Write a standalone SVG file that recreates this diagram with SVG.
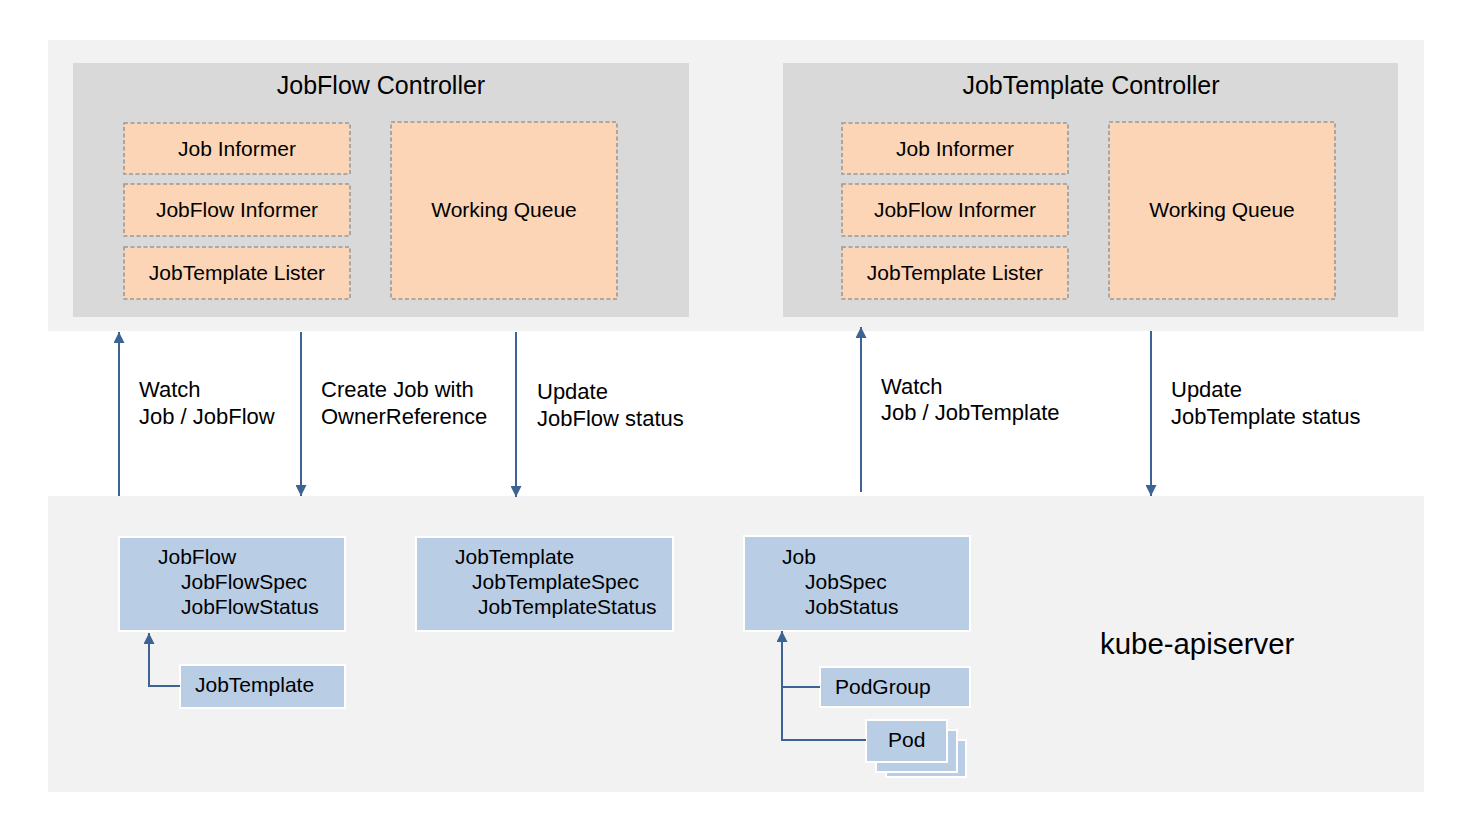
<svg xmlns="http://www.w3.org/2000/svg" width="1483" height="836" viewBox="0 0 1483 836">
<defs>
<marker id="ah" viewBox="0 0 10 10" refX="10" refY="5" markerWidth="12" markerHeight="11" markerUnits="userSpaceOnUse" orient="auto">
<path d="M0,0 L10,5 L0,10 Z" fill="#3c6393"/>
</marker>
<style>
.band{fill:#f2f2f2}
.ctrl{fill:#d9d9d9}
.peach{fill:#fbd5b5;stroke:#999999;stroke-width:1.6;stroke-dasharray:4 2.5}
.blue{fill:#b9cde5;stroke:#ffffff;stroke-width:2}
.t{font-family:"Liberation Sans",Arial,sans-serif;fill:#000}
.c20{font-size:21px;text-anchor:middle}
.l20{font-size:21px}
.lab{font-size:22px}
.h24{font-size:25px;text-anchor:middle}
.conn{stroke:#3c6393;stroke-width:2;fill:none}
</style>
</defs>
<rect width="1483" height="836" fill="#ffffff"/>
<rect id="top-band" class="band" x="48" y="40" width="1376" height="291"/>
<g id="apiserver">
<rect class="band" x="48" y="496" width="1376" height="296"/>
<text class="t" x="1100" y="654" font-size="29.4">kube-apiserver</text>
</g>
<g id="jobflow-controller">
<rect class="ctrl" x="73" y="63" width="616" height="254"/>
<text class="t h24" x="381" y="94">JobFlow Controller</text>
</g>
<g id="jf-job-informer"><rect class="peach" x="124" y="123" width="226" height="51"/><text class="t c20" x="237" y="156">Job Informer</text></g>
<g id="jf-jobflow-informer"><rect class="peach" x="124" y="184" width="226" height="52"/><text class="t c20" x="237" y="217">JobFlow Informer</text></g>
<g id="jf-jobtemplate-lister"><rect class="peach" x="124" y="247" width="226" height="52"/><text class="t c20" x="237" y="280">JobTemplate Lister</text></g>
<g id="jf-working-queue"><rect class="peach" x="391" y="122" width="226" height="177"/><text class="t c20" x="504" y="217">Working Queue</text></g>
<g id="jobtemplate-controller">
<rect class="ctrl" x="783" y="63" width="615" height="254"/>
<text class="t h24" x="1091" y="94">JobTemplate Controller</text>
</g>
<g id="jt-job-informer"><rect class="peach" x="842" y="123" width="226" height="51"/><text class="t c20" x="955" y="156">Job Informer</text></g>
<g id="jt-jobflow-informer"><rect class="peach" x="842" y="184" width="226" height="52"/><text class="t c20" x="955" y="217">JobFlow Informer</text></g>
<g id="jt-jobtemplate-lister"><rect class="peach" x="842" y="247" width="226" height="52"/><text class="t c20" x="955" y="280">JobTemplate Lister</text></g>
<g id="jt-working-queue"><rect class="peach" x="1109" y="122" width="226" height="177"/><text class="t c20" x="1222" y="217">Working Queue</text></g>
<g id="res-jobflow"><rect class="blue" x="119" y="537" width="226" height="94"/>
<text class="t l20" x="158" y="564">JobFlow</text><text class="t l20" x="181" y="589">JobFlowSpec</text><text class="t l20" x="181" y="614">JobFlowStatus</text></g>
<g id="res-jobtemplate"><rect class="blue" x="416" y="537" width="257" height="94"/>
<text class="t l20" x="455" y="564">JobTemplate</text><text class="t l20" x="472" y="589">JobTemplateSpec</text><text class="t l20" x="478" y="614">JobTemplateStatus</text></g>
<g id="res-job"><rect class="blue" x="744" y="536" width="226" height="95"/>
<text class="t l20" x="782" y="564">Job</text><text class="t l20" x="805" y="589">JobSpec</text><text class="t l20" x="805" y="614">JobStatus</text></g>
<g id="res-jobtemplate-small"><rect class="blue" x="180" y="665" width="165" height="43"/><text class="t l20" x="195" y="692">JobTemplate</text></g>
<g id="res-podgroup"><rect class="blue" x="820" y="667" width="150" height="40"/><text class="t l20" x="835" y="694">PodGroup</text></g>
<g id="res-pod">
<rect class="blue" x="886" y="740" width="80" height="37"/>
<rect class="blue" x="876" y="730" width="81" height="42"/>
<rect class="blue" x="866" y="720" width="81" height="42"/>
<text class="t l20" x="888" y="747">Pod</text>
</g>
<g id="connectors">
<line class="conn" x1="119" y1="496" x2="119" y2="332" marker-end="url(#ah)"/>
<line class="conn" x1="301" y1="332" x2="301" y2="496" marker-end="url(#ah)"/>
<line class="conn" x1="516" y1="332" x2="516" y2="497" marker-end="url(#ah)"/>
<line class="conn" x1="861" y1="492" x2="861" y2="327" marker-end="url(#ah)"/>
<line class="conn" x1="1151" y1="331" x2="1151" y2="496" marker-end="url(#ah)"/>
<polyline class="conn" points="180,686 149,686 149,633" marker-end="url(#ah)"/>
<polyline class="conn" points="866,740 782,740 782,631" marker-end="url(#ah)"/>
<line class="conn" x1="782" y1="687" x2="820" y2="687"/>
<text class="t lab" x="139" y="397">Watch</text>
<text class="t lab" x="139" y="424">Job / JobFlow</text>
<text class="t lab" x="321" y="397">Create Job with</text>
<text class="t lab" x="321" y="424">OwnerReference</text>
<text class="t lab" x="537" y="399">Update</text>
<text class="t lab" x="537" y="426">JobFlow status</text>
<text class="t lab" x="881" y="394">Watch</text>
<text class="t lab" x="881" y="420">Job / JobTemplate</text>
<text class="t lab" x="1171" y="397">Update</text>
<text class="t lab" x="1171" y="424">JobTemplate status</text>
</g>
</svg>
